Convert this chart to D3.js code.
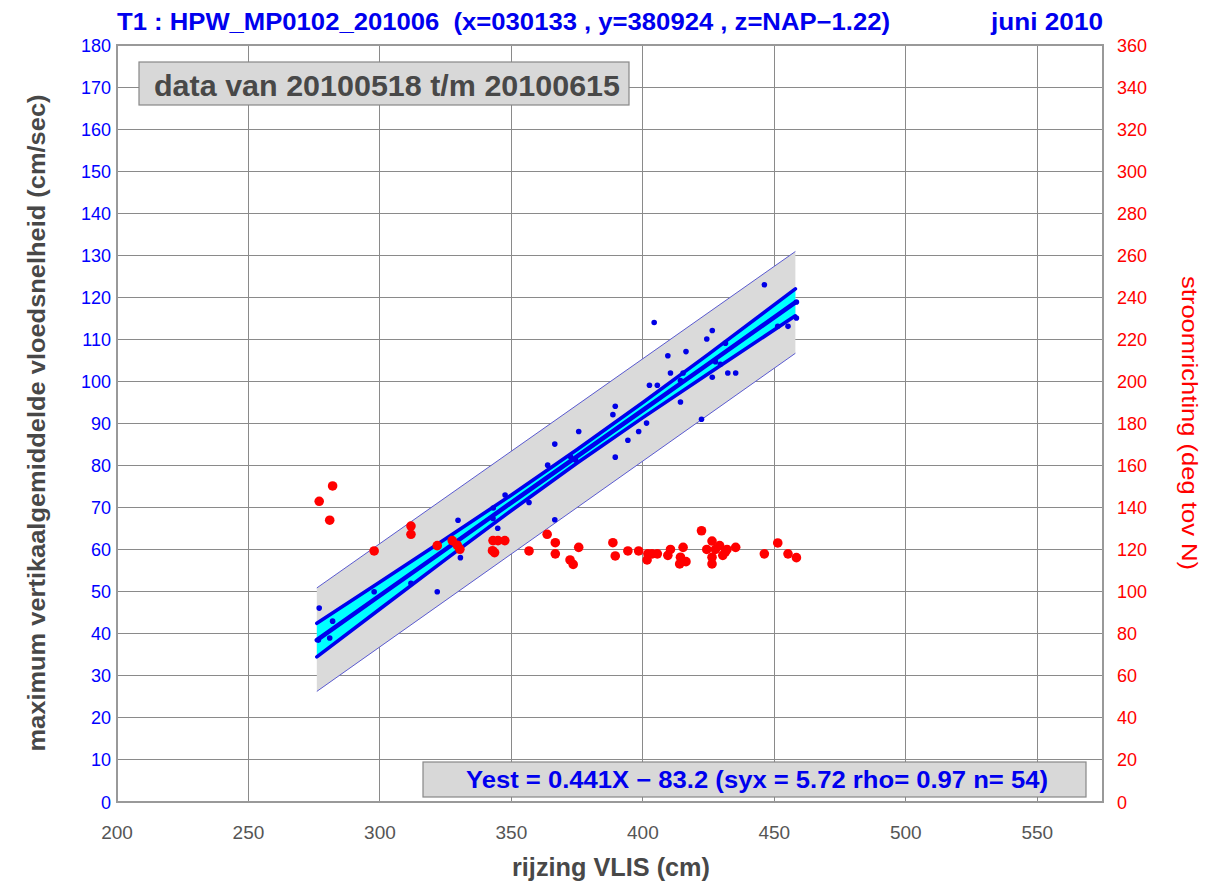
<!DOCTYPE html>
<html><head><meta charset="utf-8">
<script src="https://cdn.jsdelivr.net/npm/d3@7"></script>
<style>
html,body{margin:0;padding:0;background:#fff;}
svg{display:block;}
</style></head>
<body><svg id="c" width="1230" height="890"></svg>
<script>
// ---- data ----
const titleText = "T1 : HPW_MP0102_201006  (x=030133 , y=380924 , z=NAP\u22121.22)";
const monthText = "juni 2010";
const periodText = "data van 20100518 t/m 20100615";
const formulaText = "Yest = 0.441X \u2212 83.2 (syx = 5.72 rho= 0.97 n= 54)";
const xLabel = "rijzing VLIS (cm)";
const yLeftLabel = "maximum vertikaalgemiddelde vloedsnelheid (cm/sec)";
const yRightLabel = "stroomrichting (deg tov N)";

const xTicks = [200,250,300,350,400,450,500,550];
const yLeftTicks = [0,10,20,30,40,50,60,70,80,90,100,110,120,130,140,150,160,170,180];
const yRightTicks = [0,20,40,60,80,100,120,140,160,180,200,220,240,260,280,300,320,340,360];

// velocity points (left axis)
const speedRise = [276.9,276.6,282.0,280.9,297.8,311.8,321.8,329.7,330.6,343.1,344.8,343.0,347.6,356.7,363.8,366.5,366.5,372.5,374.4,375.6,388.6,389.5,389.5,394.3,398.4,401.4,402.5,405.5,404.3,409.5,410.5,414.3,414.3,415.3,416.4,422.3,424.3,426.4,426.4,427.6,429.5,431.4,432.3,435.3,446.2,451.3,455.2,458.4,458.4];
const speed     = [46.1,38.5,43.0,39.0,50.0,52.0,50.0,67.0,58.1,69.9,65.1,67.4,73.0,71.2,80.1,85.1,67.1,82.1,81.3,88.1,92.1,94.1,82.0,86.0,88.1,90.1,99.1,99.1,114.0,106.1,102.0,95.1,100.2,102.0,107.1,91.0,110.1,112.1,101.0,104.7,104.1,109.1,102.0,102.0,123.0,113.1,113.1,115.1,118.9];

// direction points (right axis)
const dirRise = [276.9,282.0,280.9,297.8,311.8,311.8,321.8,327.5,329.4,330.4,343.0,344.9,347.5,342.8,343.6,356.7,363.6,366.7,366.7,372.3,373.5,375.6,388.6,389.5,394.3,398.4,401.6,401.9,403.5,405.5,409.5,410.5,414.3,414.0,416.4,415.3,422.3,424.3,426.3,427.6,429.2,426.3,426.3,430.4,431.4,432.0,435.3,446.2,451.3,455.2,458.4];
const direction = [143,150.3,134,119.4,131.2,127.3,121.9,124.3,122.1,120.2,124.3,124.3,124.3,119.5,118.6,119.4,127.3,123.3,118,115.1,113,121.1,123.3,117,119.4,119.4,115.1,118,118,118,117.3,120.1,116.4,113.2,114.3,121.1,129,120.1,124.1,120.1,121.9,116.4,113.2,117.3,119,120.1,121.1,118,123.2,118,116.2];

// regression line and bands
const fitX     = [276, 300, 325, 350, 375, 400, 425, 458];
const fitMid   = [38.5, 49.1, 60.1, 71.2, 82.2, 93.2, 104.2, 118.8];
const confUp   = [42.5, 52.3, 62.6, 73.0, 83.8, 95.0, 106.5, 122.0];
const confLow  = [34.5, 45.9, 57.7, 69.3, 80.6, 91.4, 101.9, 115.6];
const predX    = [276, 458];
const predUp   = [50.9, 130.9];
const predLow  = [26.3, 106.7];

// ---- drawing ----
const svg = d3.select("#c");
const L = 117, R = 1103, T = 45, B = 802;
const x = d3.scaleLinear().domain([200,575]).range([L,R]);
const yL = d3.scaleLinear().domain([0,180]).range([B,T]);
const yR = d3.scaleLinear().domain([0,360]).range([B,T]);
const narrow = "'Liberation Sans Narrow','Arial Narrow','Liberation Sans',Arial,sans-serif";
const sans = "'Liberation Sans',Arial,sans-serif";

// grid
const g = svg.append("g");
g.selectAll("line.v").data(xTicks.filter(d=>d>200)).join("line")
  .attr("x1",d=>x(d)).attr("x2",d=>x(d)).attr("y1",T).attr("y2",B)
  .attr("stroke","#8a8a8a").attr("stroke-width",1).attr("shape-rendering","crispEdges");
g.selectAll("line.h").data(yLeftTicks.filter(d=>d>0&&d<180)).join("line")
  .attr("x1",L).attr("x2",R).attr("y1",d=>yL(d)).attr("y2",d=>yL(d))
  .attr("stroke","#8a8a8a").attr("stroke-width",1).attr("shape-rendering","crispEdges");
svg.append("rect").attr("x",L).attr("y",T).attr("width",R-L).attr("height",B-T)
  .attr("fill","none").attr("stroke","#999").attr("stroke-width",1.2).attr("shape-rendering","crispEdges");

// prediction band
const predArea = d3.area().x((d,i)=>x(predX[i])).y0((d,i)=>yL(predLow[i])).y1((d,i)=>yL(predUp[i]));
svg.append("path").datum(predX).attr("d",predArea).attr("fill","#dadada");
const lineOf = (xs,ys)=>d3.line().x((d,i)=>x(xs[i])).y((d,i)=>yL(ys[i]))(xs);
svg.append("path").attr("d",lineOf(predX,predUp)).attr("fill","none").attr("stroke","#5a5ad0").attr("stroke-width",1);
svg.append("path").attr("d",lineOf(predX,predLow)).attr("fill","none").attr("stroke","#5a5ad0").attr("stroke-width",1);

// confidence band
const confArea = d3.area().x((d,i)=>x(fitX[i])).y0((d,i)=>yL(confLow[i])).y1((d,i)=>yL(confUp[i]));
svg.append("path").datum(fitX).attr("d",confArea).attr("fill","#00ffff");
[confUp, confLow].forEach(arr=>{
  svg.append("path").attr("d",lineOf(fitX,arr)).attr("fill","none").attr("stroke","#0000ee").attr("stroke-width",3.6).attr("stroke-linecap","round");
});
svg.append("path").attr("d",lineOf(fitX,fitMid)).attr("fill","none").attr("stroke","#0000ee").attr("stroke-width",4.5).attr("stroke-linecap","round");

// points
svg.append("g").selectAll("circle").data(speedRise).join("circle")
  .attr("cx",(d)=>x(d)).attr("cy",(d,i)=>yL(speed[i])).attr("r",2.8).attr("fill","#0000e6");
svg.append("g").selectAll("circle").data(dirRise).join("circle")
  .attr("cx",(d)=>x(d)).attr("cy",(d,i)=>yR(direction[i])).attr("r",4.8).attr("fill","#ff0000");

// axes labels
svg.append("g").selectAll("text").data(yLeftTicks).join("text")
  .attr("x",111).attr("y",d=>yL(d)+6.5).attr("text-anchor","end")
  .attr("font-family",sans).attr("font-size",18).attr("fill","#0000ff").text(d=>d);
svg.append("g").selectAll("text").data(yRightTicks).join("text")
  .attr("x",1117).attr("y",d=>yR(d)+6.5).attr("text-anchor","start")
  .attr("font-family",sans).attr("font-size",18).attr("fill","#ff0000").text(d=>d);
svg.append("g").selectAll("text").data(xTicks).join("text")
  .attr("x",d=>x(d)).attr("y",839).attr("text-anchor","middle")
  .attr("font-family",narrow).attr("font-size",19).attr("fill","#555").text(d=>d);

// title
svg.append("text").attr("x",117).attr("y",30).attr("font-family",narrow).attr("font-weight","bold")
  .attr("font-size",23).attr("fill","#0000ee").attr("textLength",773).attr("lengthAdjust","spacingAndGlyphs")
  .attr("xml:space","preserve").style("white-space","pre").text(titleText);
svg.append("text").attr("x",1103).attr("y",30).attr("text-anchor","end").attr("font-family",narrow).attr("font-weight","bold")
  .attr("font-size",23).attr("fill","#0000ee").attr("textLength",112).attr("lengthAdjust","spacingAndGlyphs").text(monthText);

// period box
svg.append("rect").attr("x",139).attr("y",62).attr("width",490).attr("height",43)
  .attr("fill","#d8d8d8").attr("stroke","#888").attr("stroke-width",1.2);
svg.append("text").attr("x",387).attr("y",96).attr("text-anchor","middle").attr("font-family",narrow).attr("font-weight","bold")
  .attr("font-size",30).attr("fill","#484848").attr("textLength",466).attr("lengthAdjust","spacingAndGlyphs").text(periodText);

// formula box
svg.append("rect").attr("x",423).attr("y",762).attr("width",663).attr("height",35)
  .attr("fill","#d8d8d8").attr("stroke","#888").attr("stroke-width",1.2);
svg.append("text").attr("x",757).attr("y",788).attr("text-anchor","middle").attr("font-family",narrow).attr("font-weight","bold")
  .attr("font-size",24).attr("fill","#0000ee").attr("textLength",582).attr("lengthAdjust","spacingAndGlyphs").text(formulaText);

// axis titles
svg.append("text").attr("x",611).attr("y",876).attr("text-anchor","middle").attr("font-family",narrow).attr("font-weight","bold")
  .attr("font-size",25).attr("fill","#484848").attr("textLength",198).attr("lengthAdjust","spacingAndGlyphs").text(xLabel);
svg.append("text").attr("transform","translate(45,423) rotate(-90)").attr("text-anchor","middle").attr("font-family",narrow).attr("font-weight","bold")
  .attr("font-size",24).attr("fill","#484848").attr("textLength",657).attr("lengthAdjust","spacingAndGlyphs").text(yLeftLabel);
svg.append("text").attr("transform","translate(1182,423) rotate(90)").attr("text-anchor","middle").attr("font-family",sans)
  .attr("font-size",22).attr("fill","#ff0000").attr("textLength",294).attr("lengthAdjust","spacingAndGlyphs").text(yRightLabel);
</script></body></html>
